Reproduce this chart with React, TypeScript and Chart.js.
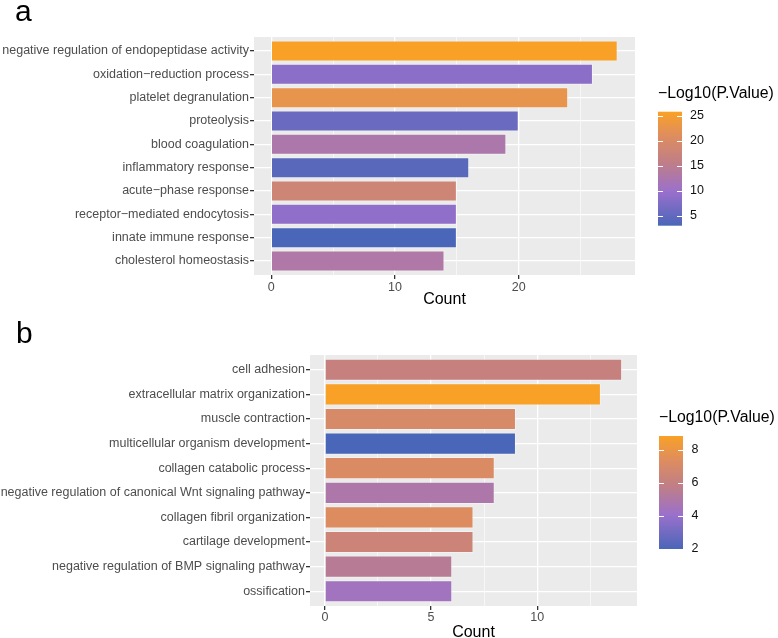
import React, { useEffect, useRef } from "react";
import { Chart, registerables } from "chart.js";
Chart.register(...registerables);

// ---------- data ----------
const termsA = [
  "negative regulation of endopeptidase activity",
  "oxidation\u2212reduction process",
  "platelet degranulation",
  "proteolysis",
  "blood coagulation",
  "inflammatory response",
  "acute\u2212phase response",
  "receptor\u2212mediated endocytosis",
  "innate immune response",
  "cholesterol homeostasis",
];
const countsA = [28, 26, 24, 20, 19, 16, 15, 15, 15, 14];
const logPA = [25.8, 8.6, 22.6, 5.7, 12.6, 4.4, 18.0, 8.9, 3.0, 13.0];
const xTicksA = [0, 5, 10, 15, 20, 25];
const xMajorA = [0, 10, 20];
const legendTicksA = [5, 10, 15, 20, 25];

const termsB = [
  "cell adhesion",
  "extracellular matrix organization",
  "muscle contraction",
  "multicellular organism development",
  "collagen catabolic process",
  "negative regulation of canonical Wnt signaling pathway",
  "collagen fibril organization",
  "cartilage development",
  "negative regulation of BMP signaling pathway",
  "ossification",
];
const countsB = [14, 13, 9, 9, 8, 8, 7, 7, 6, 6];
const logPB = [6.1, 8.84, 7.0, 1.98, 7.2, 4.9, 7.3, 6.4, 5.4, 4.4];
const xTicksB = [0, 2.5, 5, 7.5, 10, 12.5];
const xMajorB = [0, 5, 10];
const legendTicksB = [2, 4, 6, 8];

const axisTitle = "Count";
const legendTitle = "\u2212Log10(P.Value)";

// ---------- styles ----------
const W = 778;
const FONT = "'Liberation Sans', Arial, Helvetica, sans-serif";
const STOPS: [number, string][] = [
  [0, "#4a66b8"],
  [0.3, "#9a70cc"],
  [0.55, "#bf7e88"],
  [0.8, "#e08e5c"],
  [1, "#f9a126"],
];

function hexRgb(h: string) {
  const n = parseInt(h.slice(1), 16);
  return [(n >> 16) & 255, (n >> 8) & 255, n & 255];
}
function colorAt(t: number) {
  t = Math.max(0, Math.min(1, t));
  for (let i = 0; i < STOPS.length - 1; i++) {
    const [t0, c0] = STOPS[i];
    const [t1, c1] = STOPS[i + 1];
    if (t <= t1) {
      const f = (t - t0) / (t1 - t0);
      const a = hexRgb(c0);
      const b = hexRgb(c1);
      const r = a.map((v, k) => Math.round(v + (b[k] - v) * f));
      return `rgb(${r[0]},${r[1]},${r[2]})`;
    }
  }
  return STOPS[STOPS.length - 1][1];
}

type Cfg = {
  letter: string;
  terms: string[];
  counts: number[];
  logP: number[];
  xTicks: number[];
  xMajor: number[];
  legendTicks: number[];
  top: number;
  height: number;
  area: { left: number; right: number; top: number; bottom: number };
  xLabelPad: number;
  yLabelPad: number;
  titlePad: number;
  legend: { x: number; w: number; top: number; bottom: number; titleY: number; labelX: number };
  letterPos: { x: number; y: number };
};

const panels: Cfg[] = [
  {
    letter: "a",
    terms: termsA,
    counts: countsA,
    logP: logPA,
    xTicks: xTicksA,
    xMajor: xMajorA,
    legendTicks: legendTicksA,
    top: 0,
    height: 310,
    area: { left: 254, right: 635, top: 37, bottom: 275 },
    xLabelPad: 1,
    yLabelPad: 1,
    titlePad: 1,
    legend: { x: 658, w: 24, top: 111.7, bottom: 225.7, titleY: 94, labelX: 690 },
    letterPos: { x: 15, y: 21 },
  },
  {
    letter: "b",
    terms: termsB,
    counts: countsB,
    logP: logPB,
    xTicks: xTicksB,
    xMajor: xMajorB,
    legendTicks: legendTicksB,
    top: 310,
    height: 340,
    area: { left: 310, right: 637, top: 45, bottom: 296 },
    xLabelPad: 0,
    yLabelPad: 1,
    titlePad: 8,
    legend: { x: 659, w: 24, top: 126, bottom: 239, titleY: 108, labelX: 691.5 },
    letterPos: { x: 16, y: 32.7 },
  },
];

function buildChart(canvas: HTMLCanvasElement, c: Cfg) {
  const n = c.terms.length;
  const cMax = Math.max(...c.counts);
  const pMin = Math.min(...c.logP);
  const pMax = Math.max(...c.logP);
  const norm = (v: number) => (v - pMin) / (pMax - pMin);

  const plugin = {
    id: "panel" + c.letter,
    beforeDraw(chart: any) {
      const { ctx, chartArea: a } = chart;
      ctx.save();
      ctx.fillStyle = "#ffffff";
      ctx.fillRect(0, 0, chart.width, chart.height);
      ctx.fillStyle = "#ebebeb";
      ctx.fillRect(a.left, a.top, a.right - a.left, a.bottom - a.top);
      ctx.restore();
    },
    afterDraw(chart: any) {
      const ctx = chart.ctx as CanvasRenderingContext2D;
      const L = c.legend;
      ctx.save();
      ctx.fillStyle = "#000";
      ctx.font = `30px ${FONT}`;
      ctx.textAlign = "left";
      ctx.textBaseline = "alphabetic";
      ctx.fillText(c.letter, c.letterPos.x, c.letterPos.y);
      ctx.font = `15.8px ${FONT}`;
      ctx.textBaseline = "middle";
      ctx.fillText(legendTitle, L.x, L.titleY);
      const g = ctx.createLinearGradient(0, L.bottom, 0, L.top);
      STOPS.forEach(([t, col]) => g.addColorStop(t, col));
      ctx.fillStyle = g;
      ctx.fillRect(L.x, L.top, L.w, L.bottom - L.top);
      const yOf = (v: number) => L.bottom - norm(v) * (L.bottom - L.top);
      ctx.strokeStyle = "#ffffff";
      ctx.lineWidth = 1;
      ctx.font = `12.5px ${FONT}`;
      ctx.fillStyle = "#111";
      c.legendTicks.forEach((v) => {
        const y = Math.round(yOf(v)) + 0.5;
        ctx.beginPath();
        ctx.moveTo(L.x, y);
        ctx.lineTo(L.x + 5, y);
        ctx.moveTo(L.x + L.w - 5, y);
        ctx.lineTo(L.x + L.w, y);
        ctx.stroke();
        ctx.fillText(String(v), L.labelX, yOf(v));
      });
      ctx.restore();
    },
  };

  return new Chart(canvas, {
    type: "bar",
    data: {
      datasets: [
        {
          data: c.counts.map((v, i) => ({ x: v, y: i + 1 })) as any,
          backgroundColor: c.logP.map((p) => colorAt(norm(p))),
          borderColor: "rgba(255,255,255,0.35)",
          borderWidth: 1,
          barPercentage: 0.9,
          categoryPercentage: 1,
        },
      ],
    },
    options: {
      indexAxis: "y",
      animation: false,
      responsive: false,
      devicePixelRatio: 1,
      layout: { padding: { left: 0, top: c.area.top, right: W - c.area.right, bottom: 0 } },
      plugins: { legend: { display: false }, tooltip: { enabled: false } },
      scales: {
        x: {
          type: "linear",
          position: "bottom",
          offset: false,
          min: -0.05 * cMax,
          max: 1.05 * cMax,
          afterBuildTicks: (s: any) => {
            s.ticks = c.xTicks.map((v) => ({ value: v }));
          },
          afterFit: (s: any) => {
            s.height = c.height - c.area.bottom;
            s.paddingLeft = 0;
            s.paddingRight = 0;
          },
          ticks: {
            autoSkip: false,
            maxRotation: 0,
            padding: c.xLabelPad,
            color: "#4d4d4d",
            font: { family: FONT, size: 12.5 },
            callback: (v: any) => (c.xMajor.includes(Number(v)) ? String(v) : ""),
          },
          grid: {
            offset: false,
            color: "#ffffff",
            lineWidth: (ctx: any) => (c.xMajor.includes(ctx.tick?.value) ? 1.3 : 0.6),
            tickColor: (ctx: any) => (c.xMajor.includes(ctx.tick?.value) ? "#333333" : "rgba(0,0,0,0)"),
            tickLength: 4,
            tickWidth: 1.3,
          },
          border: { display: false },
          title: {
            display: true,
            text: axisTitle,
            color: "#000",
            font: { family: FONT, size: 16 },
            padding: { top: 0, bottom: c.titlePad },
          },
        },
        y: {
          type: "linear",
          position: "left",
          reverse: true,
          offset: false,
          min: 0.4,
          max: n + 0.6,
          afterBuildTicks: (s: any) => {
            s.ticks = c.terms.map((_, i) => ({ value: i + 1 }));
          },
          afterFit: (s: any) => {
            s.width = c.area.left;
            s.paddingTop = 0;
            s.paddingBottom = 0;
          },
          ticks: {
            autoSkip: false,
            padding: c.yLabelPad,
            color: "#4d4d4d",
            font: { family: FONT, size: 12.5 },
            callback: (v: any) => c.terms[Number(v) - 1] ?? "",
          },
          grid: {
            offset: false,
            color: "#ffffff",
            lineWidth: 1.3,
            tickColor: "#333333",
            tickLength: 4,
            tickWidth: 1.3,
          },
          border: { display: false },
        },
      },
    } as any,
    plugins: [plugin],
  });
}

function Panel({ cfg }: { cfg: Cfg }) {
  const ref = useRef<HTMLCanvasElement>(null);
  useEffect(() => {
    const chart = buildChart(ref.current!, cfg);
    return () => chart.destroy();
  }, [cfg]);
  return (
    <canvas
      ref={ref}
      width={W}
      height={cfg.height}
      style={{ position: "absolute", left: 0, top: cfg.top, width: W, height: cfg.height, display: "block" }}
    />
  );
}

export default function App() {
  return (
    <div
      style={{
        position: "absolute",
        left: 0,
        top: 0,
        width: W,
        height: 638,
        overflow: "hidden",
        background: "#fff",
      }}
    >
      {panels.map((p) => (
        <Panel key={p.letter} cfg={p} />
      ))}
    </div>
  );
}
